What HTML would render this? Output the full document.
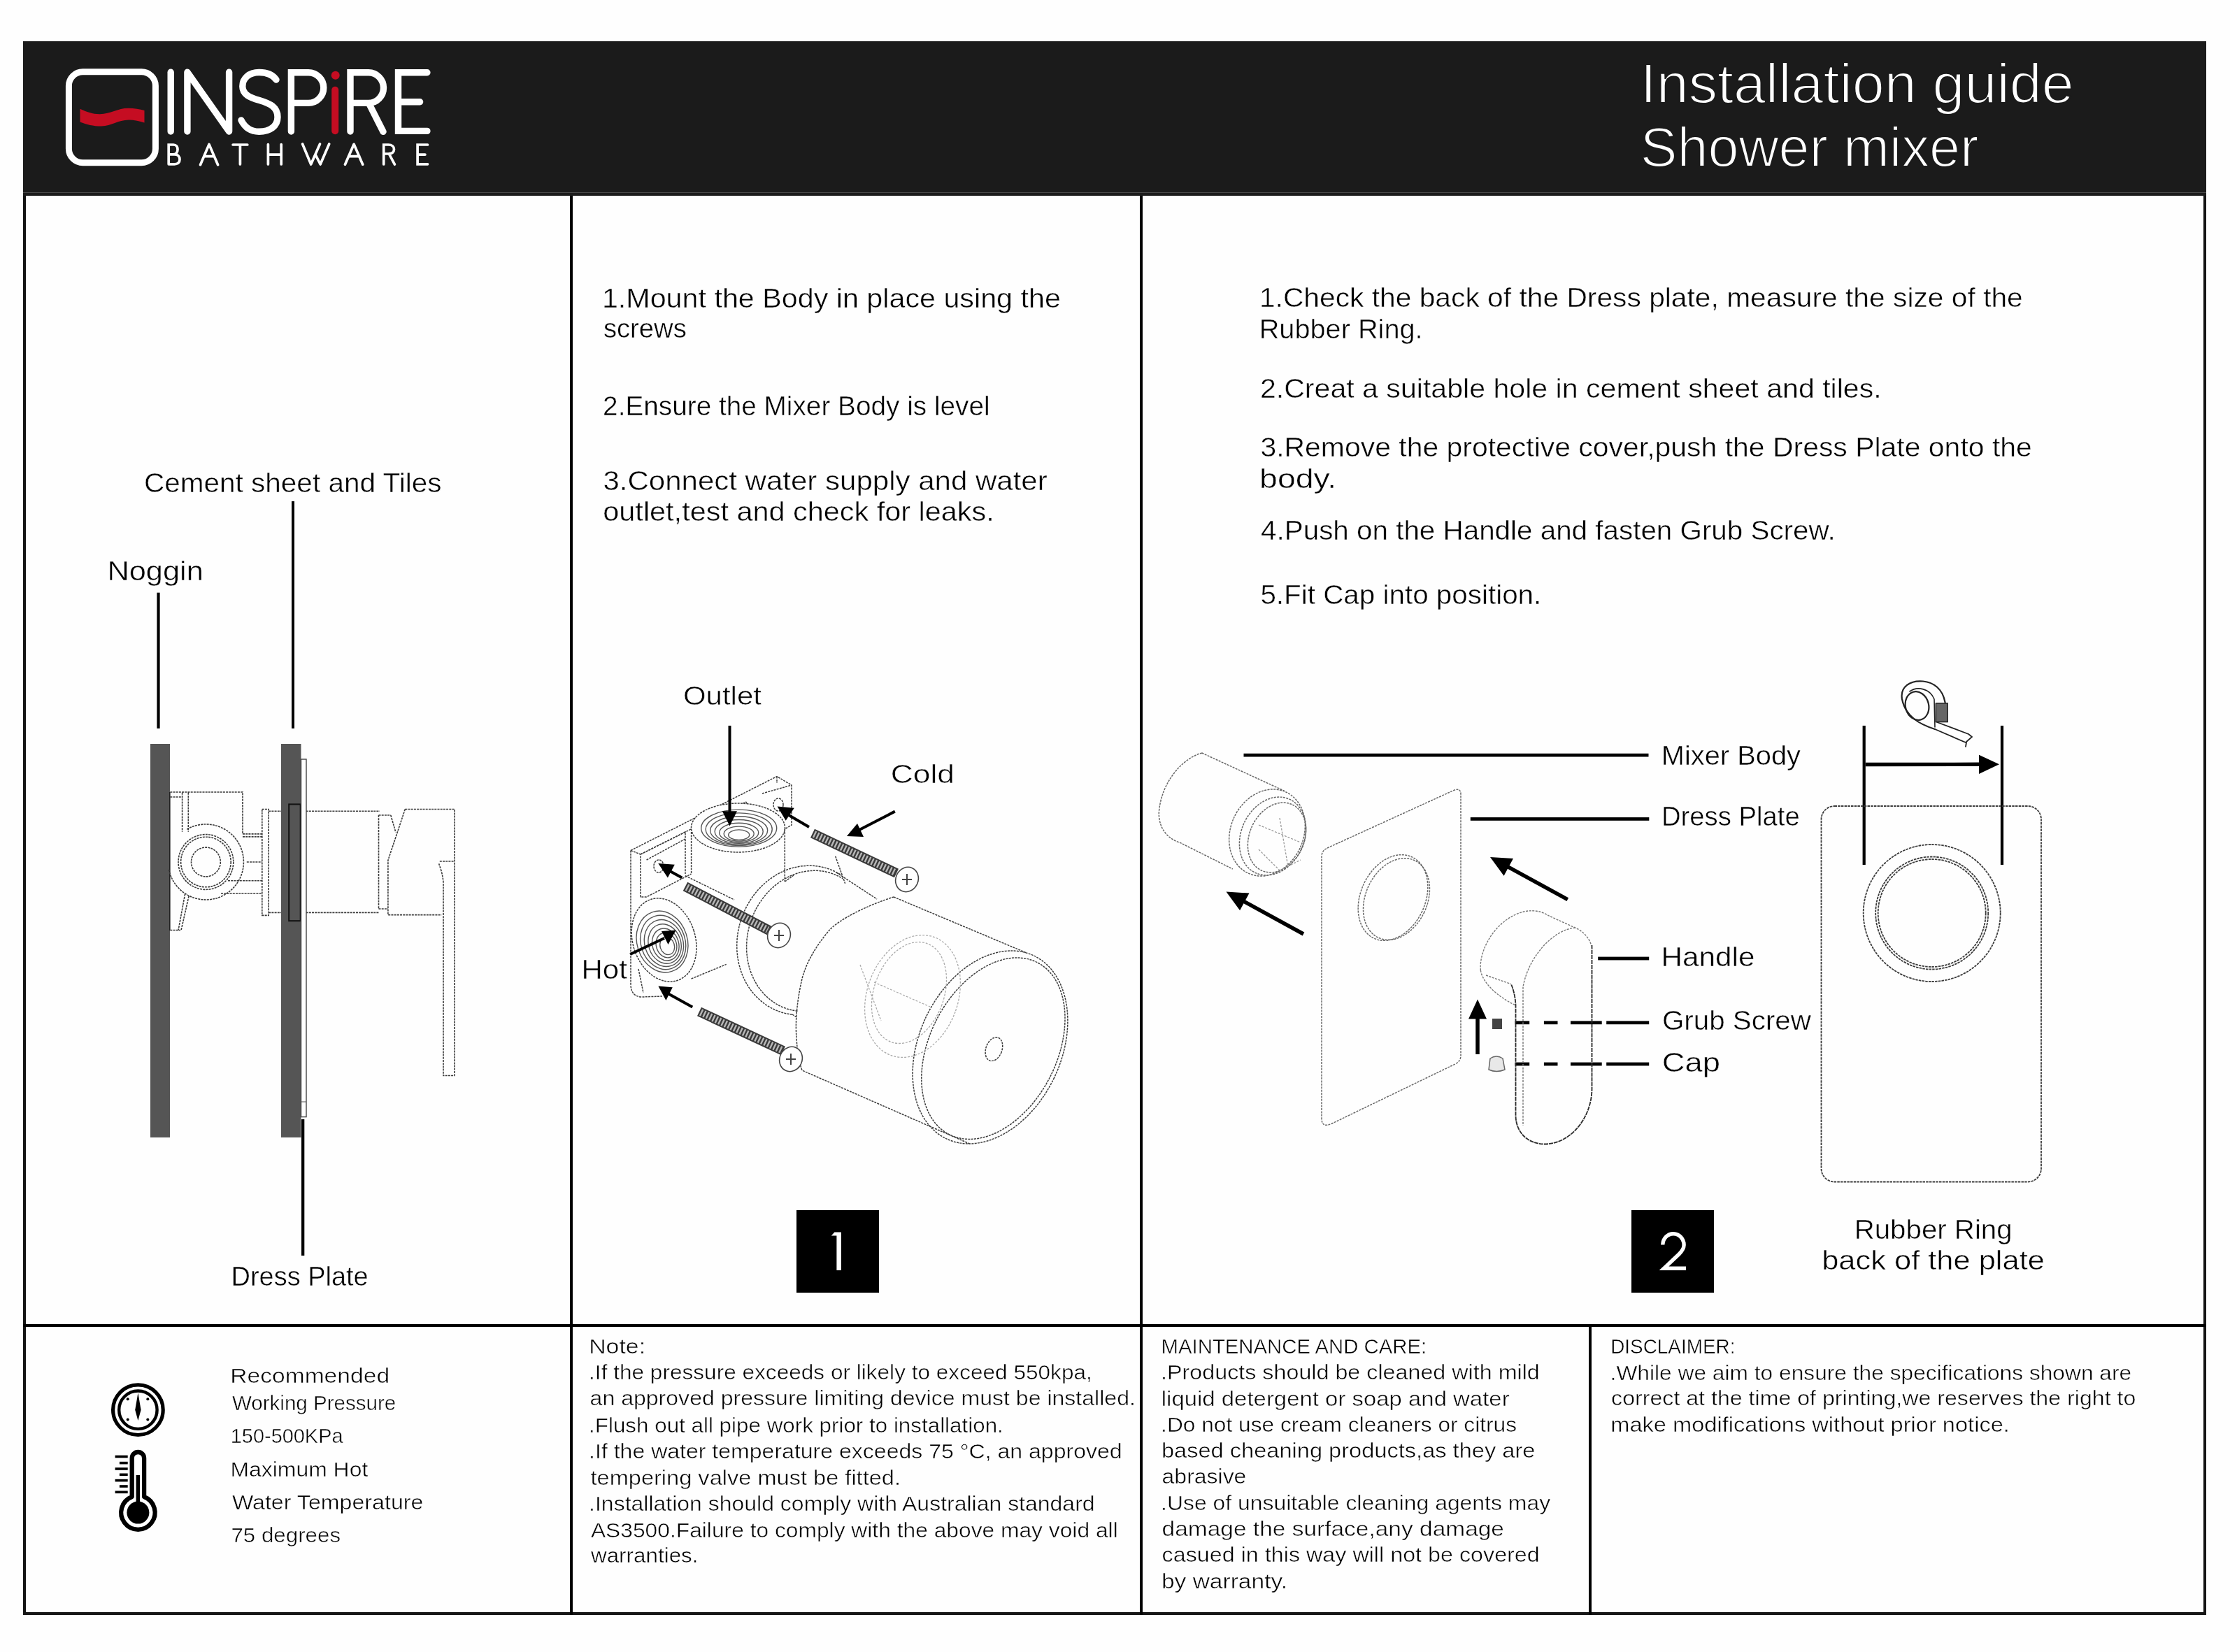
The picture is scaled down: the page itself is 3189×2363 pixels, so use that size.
<!DOCTYPE html>
<html><head><meta charset="utf-8"><title>Installation guide - Shower mixer</title>
<style>
html,body{margin:0;padding:0;background:#fff;width:3189px;height:2363px;overflow:hidden}
svg{display:block}
text{font-family:"Liberation Sans",sans-serif}
</style></head><body>
<svg width="3189" height="2363" viewBox="0 0 3189 2363" style="will-change:transform">
<rect width="3189" height="2363" fill="#fefefe"/>
<rect x="33" y="59" width="3122" height="221" fill="#1b1b1b"/>
<rect x="33" y="275" width="3122" height="1" fill="#4a4a4a"/>
<rect x="33" y="280" width="4" height="2030" fill="#141414"/>
<rect x="3151" y="280" width="4" height="2030" fill="#141414"/>
<rect x="33" y="2306" width="3122" height="4" fill="#161616"/>
<rect x="815" y="280" width="4" height="2030" fill="#000"/>
<rect x="1630" y="280" width="4" height="2030" fill="#000"/>
<rect x="33" y="1894" width="3122" height="4" fill="#000"/>
<rect x="2272" y="1898" width="4" height="412" fill="#000"/>

<g id="logo">
<rect x="98.4" y="102.8" width="124" height="130" rx="20" ry="20" fill="none" stroke="#fff" stroke-width="9"/>
<path d="M114.5,155.7 C124,160 133,163.4 143,163.2 C158,163 168,154.7 183.5,154.7 C192,154.7 200,156 206.5,158 L206.5,175.4 C200,173.5 192,171.6 184.4,171.6 C168,171.6 160,180.5 145,180.5 C133,180.5 124,178 114.5,174.4 Z" fill="#c50d22"/>
<g fill="none" stroke="#fff" stroke-width="9.4" stroke-linecap="round" stroke-linejoin="round">
<path d="M244.2,103.3 V188"/>
<path d="M267.9,188 V103.3 L327.6,188 V103.3"/>
<path d="M395,114 C390,107 381,103.5 370.5,103.5 C356,103.5 346.8,112 346.8,123.5 C346.8,135 357,139.5 371,143.5 C386,148 397,153 397,167.5 C397,180.5 386,188.3 370.5,188.3 C358,188.3 350,182 345,172"/>
<path d="M416.4,188 V103.8 H441 A21.8,21.8 0 0 1 441,147.4 H416.4" stroke-linejoin="miter"/>
<path d="M501,188 V103.8 H527 A21.5,21.8 0 0 1 527,147.4 H501 M527.3,147.4 L548,188.3" stroke-linejoin="miter"/>
<path d="M610.9,103.8 H569.5 V187.4 H610.9 M569.5,145.7 H600.6" stroke-linejoin="miter"/>
</g>
<path d="M479.2,128.8 V187.3" fill="none" stroke="#c50d22" stroke-width="10" stroke-linecap="round"/>
<circle cx="479.7" cy="107.8" r="6" fill="#c50d22"/>
<g fill="none" stroke="#fff" stroke-width="3.7" stroke-linecap="round" stroke-linejoin="round">
<path d="M241.2,234.8 V207 H248 C252,207 254,210 254,213.8 C254,218 251.5,220.9 247.5,220.9 H241.2 M247.5,220.9 H249.5 C254.5,220.9 257,224 257,228 C257,232 254.5,234.8 249.5,234.8 H241.2" stroke-linejoin="miter"/>
<path d="M286.5,235.7 L299,206.5 L311.6,235.7 M291.9,223.6 H305.3"/>
<path d="M333.1,207 H353.8 M343.4,207 V235"/>
<path d="M383.4,206.5 V235 M402.2,206.5 V235 M383.4,221.1 H402.2"/>
<path d="M432.6,206 L444.7,235 L457.5,206 M451,221 L458.1,235 L470.7,206"/>
<path d="M493.5,235.2 L506.1,206.3 L518.7,235.2 M498.4,223.6 H513.9"/>
<path d="M548.7,235 V207 H555.5 C560.5,207 563.5,209.8 563.5,213.5 C563.5,217.5 560.5,220 555.5,220 H548.7 M556.3,220 L564.4,235.2" stroke-linejoin="miter"/>
<path d="M611.5,207 H597.1 V234.8 H611.5 M597.1,221.1 H607.9" stroke-linejoin="miter"/>
</g>
</g>

<g id="d1">
<rect x="215" y="1064" width="28" height="563" fill="#555"/>
<rect x="402" y="1064" width="28.5" height="563" fill="#555"/>
<rect x="242" y="1133" width="1.6" height="198" fill="#222"/>
<g fill="none" stroke="#3a3a3a" stroke-width="1.6" stroke-dasharray="3 1.2">
<path d="M243.3,1133 H347 V1192.9 M243.3,1140 H260.6 M260.6,1133.8 V1189.7 M269.3,1133.8 V1189.7"/>
<path d="M267.4,1186.2 A54,54 0 1 1 241.5,1243.8"/>
<circle cx="294.4" cy="1233" r="39.4"/>
<circle cx="294.4" cy="1233" r="35.8"/>
<circle cx="294.4" cy="1233" r="20.9"/>
<path d="M347,1192.9 H374.8 M347,1196.9 H374.8 M352.8,1233 H374.8 M326,1259.8 H374.8 M316,1278 H374.8"/>
<path d="M264.6,1278.7 L255,1330.7 M270,1282 L259,1330.7 M243.3,1330.5 H258"/>
<rect x="374.8" y="1157.5" width="9.4" height="151.9"/>
<path d="M384.2,1160.3 H402 M384.2,1305.4 H402"/>
<path d="M437.6,1160.3 H543 M437.6,1305.4 H541.5 M541.5,1166 V1300 M541.5,1166 H558.8 M541.5,1300 H554.9"/>
<path d="M579.3,1157.5 H650 V1538.5 H634 V1262 C633,1250 630,1242 627.3,1234.6 M628.8,1232 H650 M579.3,1157.5 L554.9,1230.6 V1308.6 H631.2 M558.8,1166 L565.9,1190.5"/>
</g>
<rect x="413.2" y="1150.4" width="16.5" height="166.8" fill="#555" stroke="#111" stroke-width="2"/>
<rect x="430.5" y="1086" width="7.5" height="511.6" fill="#fff" stroke="#444" stroke-width="1.4"/>
<path d="M430.5,1576 H438" stroke="#555" stroke-width="1"/>
<g fill="#000">
<rect x="224.4" y="847.7" width="4.2" height="194.3"/>
<rect x="417" y="717" width="4" height="325"/>
<rect x="431" y="1601" width="4.3" height="195"/>
</g>
</g>
<g id="d2">
<g fill="none" stroke="#3c3c3c" stroke-width="1.5" stroke-dasharray="3 1.3">
<!-- bracket back plate -->
<path d="M902,1216.5 L1111,1110.6 L1132,1123 V1180 L1122,1186"/>
<path d="M916,1222 L1066.6,1147 M1066.6,1147 L1075,1160 M1111,1110.6 L1111,1120 M1090,1135 L1132,1123"/>
<path d="M902,1216.5 L916,1222 V1283 L924.6,1283 L988.6,1250 M916,1222 L980,1190 V1250 M924.6,1230 L980,1200"/>
<path d="M902,1216.5 V1408 C902,1420 908,1426 918,1426 L947,1425 M913,1386 L920,1420"/>
<ellipse cx="942" cy="1239" rx="7" ry="9"/>
<ellipse cx="1113" cy="1151" rx="7" ry="9"/>
<!-- outlet boss -->
<path d="M988.6,1184 V1250 L1000,1262 L1122.3,1261 V1184 Z" fill="#fefefe" stroke="none"/>
<ellipse cx="1055.5" cy="1184" rx="67" ry="35" fill="#fefefe"/>
<path d="M988.6,1190 V1250 M1122.3,1186 V1261"/>
<!-- hot boss ring -->
<ellipse cx="949.6" cy="1344.5" rx="44.6" ry="61" transform="rotate(-18 949.6 1344.5)" fill="#fefefe"/>
<!-- block -->
<path d="M980,1252.7 L1050,1287 M988.6,1400 L1038.7,1379.4 M1122.3,1261 L1135,1252 M1194.7,1224.8 L1208.6,1263.8"/>
<!-- valve ring -->
<path d="M1132.8,1451.3 L1124.5,1449.9 L1116.5,1447.7 L1108.7,1444.7 L1101.2,1440.9 L1094.0,1436.4 L1087.4,1431.1 L1081.2,1425.3 L1075.5,1418.7 L1070.4,1411.6 L1065.9,1404.0 L1062.1,1396.0 L1059.0,1387.5 L1056.6,1378.7 L1054.9,1369.7 L1053.9,1360.4 L1053.7,1351.1 L1054.2,1341.6 L1055.5,1332.3 L1057.5,1323.0 L1060.2,1313.9 L1063.7,1305.0 L1067.8,1296.4 L1072.5,1288.2 L1077.8,1280.5 L1083.7,1273.2 L1090.1,1266.6 L1097.0,1260.5 L1104.3,1255.1 L1111.9,1250.3 L1119.9,1246.3 L1128.0,1243.1 L1136.4,1240.7 L1144.8,1239.1 L1153.3,1238.3 L1161.8,1238.3 L1170.1,1239.1 L1178.4,1240.8 L1186.4,1243.3 L1194.1,1246.6 L1201.4,1250.6"/>
<path d="M1140.5,1446.3 L1132.8,1445.0 L1125.3,1443.0 L1118.1,1440.2 L1111.2,1436.7 L1104.6,1432.4 L1098.4,1427.5 L1092.7,1422.0 L1087.5,1415.9 L1082.8,1409.3 L1078.7,1402.1 L1075.2,1394.5 L1072.3,1386.6 L1070.1,1378.3 L1068.6,1369.8 L1067.7,1361.0 L1067.6,1352.2 L1068.1,1343.3 L1069.4,1334.5 L1071.3,1325.7 L1073.9,1317.1 L1077.1,1308.7 L1080.9,1300.6 L1085.4,1292.9 L1090.4,1285.6 L1095.9,1278.7 L1101.9,1272.4 L1108.3,1266.6 L1115.1,1261.4 L1122.2,1257.0 L1129.6,1253.2 L1137.2,1250.1 L1144.9,1247.7 L1152.8,1246.2 L1160.6,1245.4 L1168.5,1245.3 L1176.3,1246.1 L1183.9,1247.6 L1191.3,1249.9 L1198.4,1253.0 L1205.2,1256.8"/>
<path d="M1196,1248 L1254,1286 M1133,1451 L1139,1455"/>
<!-- cover cylinder -->
<path d="M1278,1283 C1240,1295 1200,1315 1186,1330.6 C1165,1355 1152,1380 1147,1400 C1140,1430 1137,1460 1139,1484 C1140,1505 1143,1520 1147,1531 L1386.6,1636"/>
<path d="M1278,1283 L1467.3,1362.7"/>
<ellipse cx="1416" cy="1498" rx="101.4" ry="145.1" transform="rotate(25.6 1416 1498)"/>
<ellipse cx="1420.4" cy="1499.7" rx="90.9" ry="138.2" transform="rotate(27.2 1420.4 1499.7)"/>
<ellipse cx="1421.4" cy="1500.7" rx="11.5" ry="17.5" transform="rotate(20 1421.4 1500.7)"/>
</g>
<g fill="none" stroke="#aaa" stroke-width="1.3" stroke-dasharray="3 2">
<ellipse cx="1300" cy="1420" rx="50" ry="75" transform="rotate(20 1300 1420)"/>
<ellipse cx="1305" cy="1425" rx="65" ry="90" transform="rotate(20 1305 1425)"/>
<path d="M1250,1405 L1330,1440 M1230,1380 L1260,1460"/>
</g>
<!-- threads -->
<g fill="none" stroke="#555" stroke-width="1.4">
<ellipse cx="1056.7" cy="1184.6" rx="54.0" ry="26.5"/>
<ellipse cx="1056.7" cy="1186.2" rx="47.5" ry="23.3"/>
<ellipse cx="1056.7" cy="1187.8" rx="41.0" ry="20.1"/>
<ellipse cx="1056.7" cy="1189.4" rx="34.5" ry="16.9"/>
<ellipse cx="1056.7" cy="1191.0" rx="28.0" ry="13.7"/>
<ellipse cx="1056.7" cy="1192.6" rx="21.5" ry="10.5"/>
<ellipse cx="1056.7" cy="1194.2" rx="15.0" ry="7.3"/>
<ellipse cx="947.0" cy="1347.0" rx="36.0" ry="44.6" transform="rotate(-18 947.0 1347.0)"/>
<ellipse cx="948.2" cy="1348.0" rx="31.7" ry="39.3" transform="rotate(-18 948.2 1348.0)"/>
<ellipse cx="949.4" cy="1349.0" rx="27.4" ry="34.0" transform="rotate(-18 949.4 1349.0)"/>
<ellipse cx="950.6" cy="1350.0" rx="23.1" ry="28.7" transform="rotate(-18 950.6 1350.0)"/>
<ellipse cx="951.8" cy="1351.0" rx="18.8" ry="23.4" transform="rotate(-18 951.8 1351.0)"/>
<ellipse cx="953.0" cy="1352.0" rx="14.5" ry="18.1" transform="rotate(-18 953.0 1352.0)"/>
<ellipse cx="954.2" cy="1353.0" rx="10.2" ry="12.8" transform="rotate(-18 954.2 1353.0)"/>
</g>
<!-- screws -->
<g stroke-linecap="butt">
<path d="M1162,1192 L1282,1249" stroke="#3a3a3a" stroke-width="14"/>
<path d="M1164,1193 L1280,1248" stroke="#b8b8b8" stroke-width="10" stroke-dasharray="2.4 2.4"/>
<path d="M980,1268 L1100,1331" stroke="#3a3a3a" stroke-width="14"/>
<path d="M982,1269 L1098,1330" stroke="#b8b8b8" stroke-width="10" stroke-dasharray="2.4 2.4"/>
<path d="M1000,1447 L1120,1503" stroke="#3a3a3a" stroke-width="14"/>
<path d="M1002,1448 L1118,1502" stroke="#b8b8b8" stroke-width="10" stroke-dasharray="2.4 2.4"/>
</g>
<g fill="#fff" stroke="#444" stroke-width="1.6">
<ellipse cx="1297" cy="1258" rx="16" ry="18" transform="rotate(25 1297 1258)"/>
<ellipse cx="1114" cy="1338" rx="16" ry="18" transform="rotate(25 1114 1338)"/>
<ellipse cx="1131" cy="1515" rx="16" ry="18" transform="rotate(25 1131 1515)"/>
</g>
<g fill="none" stroke="#444" stroke-width="2">
<path d="M1290,1258 L1304,1258 M1297,1250 L1297,1266"/>
<path d="M1107,1338 L1121,1338 M1114,1330 L1114,1346"/>
<path d="M1124,1515 L1138,1515 M1131,1507 L1131,1523"/>
</g>
<!-- arrows -->
<g stroke="#000" stroke-width="4" fill="none">
<path d="M1043.5,1038 V1165"/>
<path d="M1279.8,1160.6 L1225,1189"/>
<path d="M1157,1183 L1128,1166"/>
<path d="M975.3,1255.6 L958,1246"/>
<path d="M901.2,1365 L950,1342"/>
<path d="M990.2,1440.5 L955,1421"/>
</g>
<g fill="#000">
<path d="M1032.9,1160.2 L1054,1160.2 L1043.5,1181.4 Z"/>
<path d="M1211,1196 L1226,1178 L1235,1197 Z"/>
<path d="M1111.6,1153.4 L1135.8,1155.7 L1123.7,1173.8 Z"/>
<path d="M941.3,1235.1 L964.8,1236.7 L954.9,1255.6 Z"/>
<path d="M966.6,1330.4 L946,1332 L955.5,1351 Z"/>
<path d="M941.4,1410.6 L961.8,1412.2 L952.4,1431 Z"/>
</g>
</g>
<g id="d3">
<g fill="#000">
<rect x="1778.5" y="1077.8" width="579" height="4.7"/>
<rect x="2102.8" y="1169.1" width="255.5" height="4.7"/>
<rect x="2285.2" y="1368.6" width="73" height="4.8"/>
<rect x="2166.5" y="1460.3999999999999" width="20.7" height="4.8"/>
<rect x="2207.9" y="1460.3999999999999" width="19.6" height="4.8"/>
<rect x="2246" y="1460.3999999999999" width="44.7" height="4.8"/>
<rect x="2297.2" y="1460.3999999999999" width="61.0" height="4.8"/>
<rect x="2166.5" y="1519.6" width="20.7" height="4.8"/>
<rect x="2207.9" y="1519.6" width="19.6" height="4.8"/>
<rect x="2246" y="1519.6" width="44.7" height="4.8"/>
<rect x="2297.2" y="1519.6" width="61.0" height="4.8"/>
<rect x="2663.6" y="1038" width="4.2" height="199"/>
<rect x="2860.9" y="1038" width="4.2" height="199"/>
</g>
<path d="M1864.0,1336.0 L1778.9,1289.4" stroke="#000" stroke-width="5.5" fill="none"/><path d="M1753.5,1275.5 L1786.5,1277.6 L1773.1,1302.2 Z" fill="#000"/>

<path d="M2241.8,1286.6 L2156.4,1239.9" stroke="#000" stroke-width="5.5" fill="none"/><path d="M2131.0,1226.0 L2164.0,1228.1 L2150.6,1252.7 Z" fill="#000"/>

<path d="M2113.0,1508.0 L2113.0,1456.5" stroke="#000" stroke-width="5.5" fill="none"/><path d="M2113.0,1429.5 L2126.0,1457.5 L2100.0,1457.5 Z" fill="#000"/>

<path d="M2667.8,1093.5 L2831.0,1093.3" stroke="#000" stroke-width="5.4" fill="none"/><path d="M2859.0,1093.3 L2830.0,1106.9 L2830.0,1079.7 Z" fill="#000"/>

<g fill="none" stroke="#666" stroke-width="1.5" stroke-dasharray="3 1.4">
<path d="M1718.7,1077 C1690,1085 1660,1120 1657.3,1162.8 C1657,1185 1670,1200 1687.2,1205.2 L1762.8,1243 M1718.7,1077 L1836.7,1131.3"/>
<ellipse cx="1812" cy="1191" rx="52" ry="64" transform="rotate(25 1812 1191)"/>
<ellipse cx="1820" cy="1196" rx="45" ry="58" transform="rotate(25 1820 1196)"/>
<ellipse cx="1826" cy="1198" rx="39" ry="52" transform="rotate(25 1826 1198)"/>
</g>
<g fill="none" stroke="#999" stroke-width="1.3" stroke-dasharray="3 2"><path d="M1800,1180 L1860,1205 M1830,1170 L1842,1240 M1800,1215 L1830,1245 L1860,1230"/></g>
<g fill="none" stroke="#6a6a6a" stroke-width="1.5" stroke-dasharray="3 1.4">
<path d="M1898,1213 L2080,1130 Q2089,1127 2089,1136 V1510 Q2089,1518 2081,1522 L1905,1607 Q1890,1614 1890,1600 V1225 Q1890,1217 1898,1213 Z"/>
<ellipse cx="1992" cy="1284" rx="46.1" ry="64.2" transform="rotate(25 1992 1284)"/>
<ellipse cx="1997" cy="1286" rx="44" ry="61" transform="rotate(25 1997 1286)"/>
</g>
<path d="M2276.5,1352 V1558 C2276,1600 2245,1636.5 2209,1636.5 C2185,1636.5 2167.5,1620 2167.5,1595 V1438 C2167,1425 2164,1415 2161,1407.7" fill="none" stroke="#2a2a2a" stroke-width="1.8" stroke-dasharray="6 1"/>
<g fill="none" stroke="#777" stroke-width="1.4" stroke-dasharray="3 1.6">
<path d="M2117.4,1388 C2115,1365 2130,1330 2160,1312 C2180,1300 2200,1300 2215,1310 L2252.5,1327 C2265,1332 2276,1345 2276.5,1358 M2117.4,1388 C2120,1405 2140,1425 2167.5,1438"/>
<path d="M2252.5,1327 C2220,1330 2185,1370 2178,1412 V1610 M2125,1395 L2161,1407.7"/>
</g>
<rect x="2134" y="1457" width="14" height="15" fill="#444"/>
<path d="M2129,1530 L2131,1514 Q2140,1508 2149,1514 L2152,1530 Q2140,1535 2129,1530 Z" fill="#e8e8e8" stroke="#666" stroke-width="1.5"/>
<g fill="none" stroke="#3c3c3c" stroke-width="1.8" stroke-dasharray="3.5 1.2">
<rect x="2604.5" y="1153" width="314.5" height="537.5" rx="19"/>
<circle cx="2762.7" cy="1306" r="98"/>
<circle cx="2762.7" cy="1306" r="80.5"/>
<circle cx="2762.7" cy="1306" r="77"/>
</g>
<g fill="none" stroke="#222" stroke-width="2.2" stroke-linecap="round">
<path d="M2767,1043 C2745,1036 2725,1025 2720,1000 C2717,982 2732,973 2750,974.5 C2765,976 2778,985 2781.6,1004.8"/>
<path d="M2731,989 C2742,981 2760,985 2766,1000 L2767,1040" stroke-width="1.6"/>
<ellipse cx="2741.5" cy="1009.6" rx="16.6" ry="20.6" transform="rotate(-15 2741.5 1009.6)"/>
<path d="M2770,1033 L2815,1050 M2767,1043 L2811,1062 L2820,1054 L2815,1050 M2812,1062 L2811,1068" stroke-width="1.8"/>
</g>
<rect x="2768.3" y="1006" width="16.9" height="26.6" fill="#666" stroke="#222" stroke-width="1.5"/>
</g><g id="d4">
<circle cx="197.4" cy="2016.7" r="35.8" fill="none" stroke="#000" stroke-width="5.2"/>
<circle cx="197.4" cy="2016.7" r="27.2" fill="none" stroke="#000" stroke-width="4.4"/>
<path d="M197.4,1992.3 L201.6,2016.7 L197.4,2032 L193.2,2016.7 Z" fill="#000"/>
<g fill="#000"><circle cx="182.7" cy="2001.3" r="2"/><circle cx="211.3" cy="2001.3" r="2"/><circle cx="182.7" cy="2030.6" r="2"/><circle cx="211.3" cy="2030.6" r="2"/></g>
<path d="M188.7,2141 V2085.7 A8.7,8.7 0 0 1 206.1,2085.7 V2141 A24.2,24.2 0 1 1 188.7,2141 Z" fill="none" stroke="#000" stroke-width="6.3" stroke-linejoin="round"/>
<rect x="194.6" y="2110" width="5.5" height="45" fill="#000"/>
<circle cx="197.4" cy="2163.6" r="16" fill="#000"/>
<g fill="#000">
<rect x="164.6" y="2081.7" width="18.1" height="3.6"/>
<rect x="170.9" y="2090.8" width="11.8" height="3.6"/>
<rect x="164.6" y="2099.2" width="18.1" height="3.6"/>
<rect x="170.9" y="2107.5" width="11.8" height="3.6"/>
<rect x="164.6" y="2115.8" width="18.1" height="3.6"/>
<rect x="170.9" y="2124.2" width="11.8" height="3.6"/>
<rect x="164.6" y="2132.5" width="18.1" height="3.6"/>
</g>
</g>

<rect x="1139" y="1731" width="118" height="118" fill="#000"/>
<rect x="2333" y="1731" width="118" height="118" fill="#000"/>

<text x="2345.8" y="147.0" font-size="79.22" textLength="619.9" lengthAdjust="spacingAndGlyphs" fill="#fff"  stroke="#1b1b1b" stroke-width="2.0">Installation guide</text>
<text x="2345.7" y="237.5" font-size="79.22" textLength="483.6" lengthAdjust="spacingAndGlyphs" fill="#fff"  stroke="#1b1b1b" stroke-width="2.0">Shower mixer</text>
<text x="206.0" y="704.0" font-size="39.55" textLength="425.5" lengthAdjust="spacingAndGlyphs" fill="#000"  stroke="#fff" stroke-width="0.5">Cement sheet and Tiles</text>
<text x="153.4" y="829.6" font-size="38.84" textLength="137.4" lengthAdjust="spacingAndGlyphs" fill="#000"  stroke="#fff" stroke-width="0.5">Noggin</text>
<text x="330.5" y="1838.8" font-size="38.84" textLength="196.2" lengthAdjust="spacingAndGlyphs" fill="#000"  stroke="#fff" stroke-width="0.5">Dress Plate</text>
<text x="860.9" y="439.7" font-size="39.55" textLength="656.0" lengthAdjust="spacingAndGlyphs" fill="#000"  stroke="#fff" stroke-width="0.5">1.Mount the Body in place using the</text>
<text x="862.9" y="483.3" font-size="39.55" textLength="118.9" lengthAdjust="spacingAndGlyphs" fill="#000"  stroke="#fff" stroke-width="0.5">screws</text>
<text x="862.1" y="593.8" font-size="39.55" textLength="553.5" lengthAdjust="spacingAndGlyphs" fill="#000"  stroke="#fff" stroke-width="0.5">2.Ensure the Mixer Body is level</text>
<text x="862.4" y="700.6" font-size="39.55" textLength="635.3" lengthAdjust="spacingAndGlyphs" fill="#000"  stroke="#fff" stroke-width="0.5">3.Connect water supply and water</text>
<text x="862.3" y="744.9" font-size="39.55" textLength="559.5" lengthAdjust="spacingAndGlyphs" fill="#000"  stroke="#fff" stroke-width="0.5">outlet,test and check for leaks.</text>
<text x="977.0" y="1008.0" font-size="36.72" textLength="111.9" lengthAdjust="spacingAndGlyphs" fill="#000"  stroke="#fff" stroke-width="0.5">Outlet</text>
<text x="1273.8" y="1119.7" font-size="36.72" textLength="91.1" lengthAdjust="spacingAndGlyphs" fill="#000"  stroke="#fff" stroke-width="0.5">Cold</text>
<text x="831.6" y="1400.0" font-size="38.14" textLength="65.2" lengthAdjust="spacingAndGlyphs" fill="#000"  stroke="#fff" stroke-width="0.5">Hot</text>
<text x="1800.9" y="439.0" font-size="39.55" textLength="1091.9" lengthAdjust="spacingAndGlyphs" fill="#000"  stroke="#fff" stroke-width="0.5">1.Check the back of the Dress plate, measure the size of the</text>
<text x="1800.7" y="484.2" font-size="39.55" textLength="233.9" lengthAdjust="spacingAndGlyphs" fill="#000"  stroke="#fff" stroke-width="0.5">Rubber Ring.</text>
<text x="1801.9" y="568.9" font-size="39.55" textLength="888.8" lengthAdjust="spacingAndGlyphs" fill="#000"  stroke="#fff" stroke-width="0.5">2.Creat a suitable hole in cement sheet and tiles.</text>
<text x="1802.4" y="652.5" font-size="39.55" textLength="1103.4" lengthAdjust="spacingAndGlyphs" fill="#000"  stroke="#fff" stroke-width="0.5">3.Remove the protective cover,push the Dress Plate onto the</text>
<text x="1801.1" y="697.5" font-size="39.55" textLength="110.0" lengthAdjust="spacingAndGlyphs" fill="#000"  stroke="#fff" stroke-width="0.5">body.</text>
<text x="1803.1" y="771.5" font-size="39.55" textLength="821.6" lengthAdjust="spacingAndGlyphs" fill="#000"  stroke="#fff" stroke-width="0.5">4.Push on the Handle and fasten Grub Screw.</text>
<text x="1802.4" y="864.0" font-size="39.55" textLength="401.9" lengthAdjust="spacingAndGlyphs" fill="#000"  stroke="#fff" stroke-width="0.5">5.Fit Cap into position.</text>
<text x="2375.7" y="1094.0" font-size="38.14" textLength="199.3" lengthAdjust="spacingAndGlyphs" fill="#000"  stroke="#fff" stroke-width="0.5">Mixer Body</text>
<text x="2375.9" y="1181.3" font-size="38.14" textLength="197.8" lengthAdjust="spacingAndGlyphs" fill="#000"  stroke="#fff" stroke-width="0.5">Dress Plate</text>
<text x="2375.5" y="1381.7" font-size="38.14" textLength="134.0" lengthAdjust="spacingAndGlyphs" fill="#000"  stroke="#fff" stroke-width="0.5">Handle</text>
<text x="2377.0" y="1472.7" font-size="38.14" textLength="212.9" lengthAdjust="spacingAndGlyphs" fill="#000"  stroke="#fff" stroke-width="0.5">Grub Screw</text>
<text x="2376.7" y="1533.0" font-size="38.14" textLength="83.2" lengthAdjust="spacingAndGlyphs" fill="#000"  stroke="#fff" stroke-width="0.5">Cap</text>
<text x="2651.7" y="1772.0" font-size="38.14" textLength="225.9" lengthAdjust="spacingAndGlyphs" fill="#000"  stroke="#fff" stroke-width="0.5">Rubber Ring</text>
<text x="2605.2" y="1815.6" font-size="38.14" textLength="318.7" lengthAdjust="spacingAndGlyphs" fill="#000"  stroke="#fff" stroke-width="0.5">back of the plate</text>
<text x="329.2" y="1977.6" font-size="28.57" textLength="227.9" lengthAdjust="spacingAndGlyphs" fill="#000"  stroke="#fff" stroke-width="0.5">Recommended</text>
<text x="331.9" y="2016.5" font-size="28.57" textLength="234.4" lengthAdjust="spacingAndGlyphs" fill="#000"  stroke="#fff" stroke-width="0.5">Working Pressure</text>
<text x="329.8" y="2063.7" font-size="28.57" textLength="160.7" lengthAdjust="spacingAndGlyphs" fill="#000"  stroke="#fff" stroke-width="0.5">150-500KPa</text>
<text x="329.4" y="2112.0" font-size="28.57" textLength="196.9" lengthAdjust="spacingAndGlyphs" fill="#000"  stroke="#fff" stroke-width="0.5">Maximum Hot</text>
<text x="331.9" y="2158.8" font-size="28.57" textLength="273.5" lengthAdjust="spacingAndGlyphs" fill="#000"  stroke="#fff" stroke-width="0.5">Water Temperature</text>
<text x="330.4" y="2206.4" font-size="28.57" textLength="156.7" lengthAdjust="spacingAndGlyphs" fill="#000"  stroke="#fff" stroke-width="0.5">75 degrees</text>
<text x="842.2" y="1936.0" font-size="29.00" textLength="80.9" lengthAdjust="spacingAndGlyphs" fill="#000"  stroke="#fff" stroke-width="0.5">Note:</text>
<text x="842.1" y="1972.8" font-size="29.00" textLength="719.7" lengthAdjust="spacingAndGlyphs" fill="#000"  stroke="#fff" stroke-width="0.5">.If the pressure exceeds or likely to exceed 550kpa,</text>
<text x="843.6" y="2010.3" font-size="29.00" textLength="780.3" lengthAdjust="spacingAndGlyphs" fill="#000"  stroke="#fff" stroke-width="0.5">an approved pressure limiting device must be installed.</text>
<text x="842.1" y="2049.0" font-size="29.00" textLength="592.7" lengthAdjust="spacingAndGlyphs" fill="#000"  stroke="#fff" stroke-width="0.5">.Flush out all pipe work prior to installation.</text>
<text x="842.1" y="2085.7" font-size="29.00" textLength="762.5" lengthAdjust="spacingAndGlyphs" fill="#000"  stroke="#fff" stroke-width="0.5">.If the water temperature exceeds 75 °C, an approved</text>
<text x="844.5" y="2123.5" font-size="29.00" textLength="443.5" lengthAdjust="spacingAndGlyphs" fill="#000"  stroke="#fff" stroke-width="0.5">tempering valve must be fitted.</text>
<text x="842.1" y="2161.0" font-size="29.00" textLength="723.5" lengthAdjust="spacingAndGlyphs" fill="#000"  stroke="#fff" stroke-width="0.5">.Installation should comply with Australian standard</text>
<text x="844.9" y="2198.5" font-size="29.00" textLength="753.8" lengthAdjust="spacingAndGlyphs" fill="#000"  stroke="#fff" stroke-width="0.5">AS3500.Failure to comply with the above may void all</text>
<text x="845.0" y="2235.3" font-size="29.00" textLength="153.5" lengthAdjust="spacingAndGlyphs" fill="#000"  stroke="#fff" stroke-width="0.5">warranties.</text>
<text x="1660.6" y="1935.9" font-size="29.00" textLength="379.6" lengthAdjust="spacingAndGlyphs" fill="#000"  stroke="#fff" stroke-width="0.5">MAINTENANCE AND CARE:</text>
<text x="1660.1" y="1973.2" font-size="29.00" textLength="541.7" lengthAdjust="spacingAndGlyphs" fill="#000"  stroke="#fff" stroke-width="0.5">.Products should be cleaned with mild</text>
<text x="1660.8" y="2010.5" font-size="29.00" textLength="497.8" lengthAdjust="spacingAndGlyphs" fill="#000"  stroke="#fff" stroke-width="0.5">liquid detergent or soap and water</text>
<text x="1660.1" y="2047.8" font-size="29.00" textLength="509.0" lengthAdjust="spacingAndGlyphs" fill="#000"  stroke="#fff" stroke-width="0.5">.Do not use cream cleaners or citrus</text>
<text x="1660.9" y="2085.0" font-size="29.00" textLength="534.5" lengthAdjust="spacingAndGlyphs" fill="#000"  stroke="#fff" stroke-width="0.5">based cheaning products,as they are</text>
<text x="1661.6" y="2122.4" font-size="29.00" textLength="120.8" lengthAdjust="spacingAndGlyphs" fill="#000"  stroke="#fff" stroke-width="0.5">abrasive</text>
<text x="1660.1" y="2159.8" font-size="29.00" textLength="557.0" lengthAdjust="spacingAndGlyphs" fill="#000"  stroke="#fff" stroke-width="0.5">.Use of unsuitable cleaning agents may</text>
<text x="1661.6" y="2197.0" font-size="29.00" textLength="489.4" lengthAdjust="spacingAndGlyphs" fill="#000"  stroke="#fff" stroke-width="0.5">damage the surface,any damage</text>
<text x="1661.6" y="2234.4" font-size="29.00" textLength="540.2" lengthAdjust="spacingAndGlyphs" fill="#000"  stroke="#fff" stroke-width="0.5">casued in this way will not be covered</text>
<text x="1660.9" y="2271.7" font-size="29.00" textLength="180.2" lengthAdjust="spacingAndGlyphs" fill="#000"  stroke="#fff" stroke-width="0.5">by warranty.</text>
<text x="2303.2" y="1936.3" font-size="29.00" textLength="178.3" lengthAdjust="spacingAndGlyphs" fill="#000"  stroke="#fff" stroke-width="0.5">DISCLAIMER:</text>
<text x="2302.6" y="1973.8" font-size="29.00" textLength="745.6" lengthAdjust="spacingAndGlyphs" fill="#000"  stroke="#fff" stroke-width="0.5">.While we aim to ensure the specifications shown are</text>
<text x="2304.1" y="2010.0" font-size="29.00" textLength="750.2" lengthAdjust="spacingAndGlyphs" fill="#000"  stroke="#fff" stroke-width="0.5">correct at the time of printing,we reserves the right to</text>
<text x="2303.3" y="2048.0" font-size="29.00" textLength="570.6" lengthAdjust="spacingAndGlyphs" fill="#000"  stroke="#fff" stroke-width="0.5">make modifications without prior notice.</text>
<path d="M1188.8,1767.6 L1193.4,1762.6 H1202.9 V1817 H1196.4 V1767.6 Z" fill="#fff"/><path d="M2377.8,1780.5 A15.1,16 0 0 1 2408.1,1781 C2408,1786 2405,1790 2401,1794 L2379.5,1814.3 H2411" fill="none" stroke="#fff" stroke-width="5.4"/>
</svg>
</body></html>
